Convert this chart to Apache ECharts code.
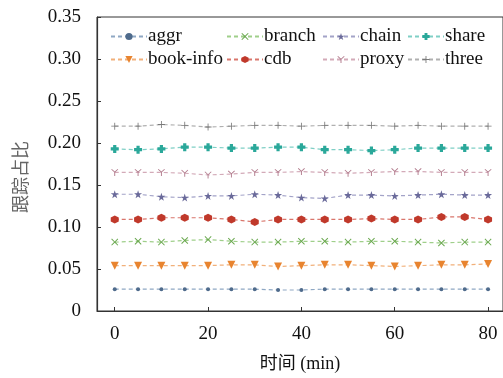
<!DOCTYPE html>
<html><head><meta charset="utf-8">
<script src="https://cdn.jsdelivr.net/npm/echarts@6/dist/echarts.min.js"></script>
<style>html,body{margin:0;padding:0;background:#fff}#c{width:503px;height:378px}</style>
</head><body><div id="c"></div>
<script>
var xValues = [0,5,10,15,20,25,30,35,40,45,50,55,60,65,70,75,80];
var xTicks = [0,20,40,60,80];
var yTicks = [0,0.05,0.10,0.15,0.20,0.25,0.30,0.35];
var seriesNames = ['aggr','branch','chain','share','book-info','cdb','proxy','three'];
var aggr     = [0.026,0.026,0.026,0.026,0.026,0.026,0.026,0.025,0.025,0.026,0.026,0.026,0.026,0.026,0.026,0.026,0.026];
var branch   = [0.082,0.083,0.082,0.084,0.085,0.083,0.082,0.082,0.083,0.083,0.082,0.083,0.083,0.082,0.081,0.082,0.082];
var chain    = [0.139,0.139,0.136,0.135,0.137,0.137,0.139,0.138,0.135,0.134,0.138,0.138,0.137,0.138,0.139,0.138,0.138];
var share    = [0.193,0.192,0.193,0.195,0.195,0.194,0.194,0.195,0.195,0.192,0.192,0.191,0.192,0.194,0.194,0.194,0.194];
var bookInfo = [0.054,0.054,0.054,0.054,0.054,0.055,0.055,0.053,0.054,0.055,0.055,0.054,0.053,0.054,0.055,0.055,0.056];
var cdb      = [0.109,0.109,0.111,0.111,0.111,0.109,0.106,0.109,0.109,0.109,0.109,0.110,0.109,0.109,0.112,0.112,0.109];
var proxy    = [0.165,0.165,0.165,0.164,0.162,0.163,0.165,0.165,0.166,0.165,0.164,0.165,0.166,0.166,0.165,0.165,0.165];
var three    = [0.220,0.220,0.222,0.221,0.219,0.220,0.221,0.221,0.220,0.221,0.221,0.221,0.220,0.221,0.220,0.220,0.220];
var seriesData = [aggr, branch, chain, share, bookInfo, cdb, proxy, three];

var SYM = {
  dot: 'circle',
  x: 'path://M0,1 L1,0 L5,4 L9,0 L10,1 L6,5 L10,9 L9,10 L5,6 L1,10 L0,9 L4,5 Z',
  star: 'path://M5,0 L6.2,3.6 L10,3.6 L6.9,5.8 L8.1,9.5 L5,7.3 L1.9,9.5 L3.1,5.8 L0,3.6 L3.8,3.6 Z',
  plusBold: 'path://M3,0 H7 V3 H10 V7 H7 V10 H3 V7 H0 V3 H3 Z',
  triDown: 'path://M0,0 L10,0 L5,10 Z',
  hex: 'path://M5,0 L9.33,2.5 L9.33,7.5 L5,10 L0.67,7.5 L0.67,2.5 Z',
  yShape: 'path://M4.4,5 L4.4,10 L5.6,10 L5.6,5 L9.6,1 L8.8,0.2 L5,4 L1.2,0.2 L0.4,1 Z',
  plusThin: 'path://M4.4,0 H5.6 V4.4 H10 V5.6 H5.6 V10 H4.4 V5.6 H0 V4.4 H4.4 Z'
};
var styles = [
  {c:'#4f6b8c', lc:'#8fa8c4', s:SYM.dot, sz:4},
  {c:'#6aa84f', lc:'#9fcf8a', s:SYM.x, sz:7},
  {c:'#6a6a9a', lc:'#a3a3c8', s:SYM.star, sz:8},
  {c:'#2aa89a', lc:'#7fcfc5', s:SYM.plusBold, sz:8},
  {c:'#e8842f', lc:'#f1b07a', s:SYM.triDown, sz:8},
  {c:'#c0392b', lc:'#d9766c', s:SYM.hex, sz:8},
  {c:'#b0788a', lc:'#d3aab8', s:SYM.yShape, sz:7},
  {c:'#7a7a7a', lc:'#b0b0b0', s:SYM.plusThin, sz:7}
];
var FONT = '"Liberation Serif", "Times New Roman", serif';
var CJK = '"Liberation Serif", "Noto Sans CJK SC", serif';

var series = seriesNames.map(function(n, i){
  var st = styles[i];
  return {
    name: n, type: 'line',
    data: xValues.map(function(x, j){ return [x, seriesData[i][j]]; }),
    symbol: st.s, symbolSize: st.sz, showSymbol: true,
    itemStyle: {color: st.c},
    lineStyle: {color: st.lc, width: 1.2, type: [4,3]},
    animation: false
  };
});

function legendCol(names, left){
  return {
    orient: 'vertical', left: left, top: 27,
    data: names, itemWidth: 36, itemHeight: 9, itemGap: 4,
    textStyle: {fontFamily: FONT, fontSize: 19, color: '#111', padding: [0,0,0,-4], lineHeight: 19},
    padding: 0
  };
}

var chart = echarts.init(document.getElementById('c'), null, {renderer: 'canvas'});
chart.setOption({
  animation: false,
  grid: {left: 97, top: 17, width: 411, height: 296, show: true, borderColor: '#333', borderWidth: 1},
  legend: [
    legendCol(['aggr','book-info'], 110),
    legendCol(['branch','cdb'], 226),
    legendCol(['chain','proxy'], 322),
    legendCol(['share','three'], 407)
  ],
  xAxis: {
    type: 'value', min: -3.8, max: 83.2,
    name: '时间 (min)', nameLocation: 'middle', nameGap: 44,
    nameTextStyle: {fontFamily: CJK, fontSize: 18, color: '#111'},
    axisLine: {show: true, onZero: false, lineStyle: {color: '#333', width: 1.2}},
    axisTick: {show: true, inside: true, length: 4, customValues: xTicks, lineStyle: {color: '#333'}},
    axisLabel: {customValues: xTicks, fontFamily: FONT, fontSize: 19, color: '#111', margin: 14},
    splitLine: {show: false}
  },
  yAxis: {
    type: 'value', min: 0, max: 0.35, interval: 0.05,
    name: '跟踪占比', nameLocation: 'middle', nameGap: 68,
    nameTextStyle: {fontFamily: '"Noto Sans CJK SC", sans-serif', fontSize: 18, color: '#666', padding: [0, 26, 0, 0]},
    axisLine: {show: true, onZero: false, lineStyle: {color: '#333', width: 1.2}},
    axisTick: {show: true, inside: true, length: 4, lineStyle: {color: '#333'}},
    axisLabel: {fontFamily: FONT, fontSize: 19, color: '#111', margin: 16,
      formatter: function(v){ return v === 0 ? '0' : v.toFixed(2); }},
    splitLine: {show: false}
  },
  series: series
});
</script></body></html>
